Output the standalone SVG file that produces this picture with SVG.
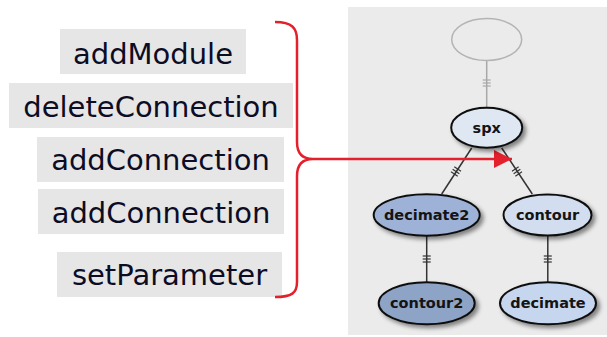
<svg xmlns="http://www.w3.org/2000/svg" width="607" height="337" viewBox="0 0 607 337">
  <style>
    .cmd-box { fill: #e6e6e6; }
    .cmd-text { font-family: "DejaVu Sans", Verdana, sans-serif; font-size: 29px; fill: #0c0c24; text-anchor: middle; }
    .node { stroke: #111; stroke-width: 2; filter: url(#shadow); }
    .node-label { font-family: "DejaVu Sans", Verdana, sans-serif; font-size: 14.5px; font-weight: bold; fill: #141414; text-anchor: middle; }
    .edge { stroke: #333; stroke-width: 1.5; fill: none; }
    .edge-faint { stroke: #a8a8a8; stroke-width: 1.5; fill: none; }
    .hash { stroke: #333; stroke-width: 1.2; }
    .hash-faint { stroke: #a8a8a8; stroke-width: 1.2; }
    .brace { stroke: #e3202c; stroke-width: 2.5; fill: none; }
  </style>
  <defs>
    <filter id="shadow" x="-30%" y="-30%" width="160%" height="170%">
      <feDropShadow dx="3" dy="3" stdDeviation="2" flood-color="#000" flood-opacity="0.45"/>
    </filter>
    <!-- three short ticks across a vertical edge; stroke comes from the <use> -->
    <g id="ticks">
      <line x1="-4" y1="-3" x2="4" y2="-3"/>
      <line x1="-4" y1="0" x2="4" y2="0"/>
      <line x1="-4" y1="3" x2="4" y2="3"/>
    </g>
    <marker id="arrowhead" markerUnits="userSpaceOnUse" markerWidth="20" markerHeight="18" refX="18" refY="9" orient="auto">
      <path d="M0,0 L18,9 L0,18 Z" fill="#e3202c"/>
    </marker>
  </defs>

  <!-- page -->
  <rect x="0" y="0" width="607" height="337" fill="#ffffff"/>
  <!-- pipeline canvas -->
  <rect x="348" y="7" width="259" height="328" fill="#ebebeb"/>

  <!-- command list -->
  <g id="cmd-addModule">
    <rect class="cmd-box" x="60" y="29" width="186" height="45"/>
    <text class="cmd-text" x="153" y="64">addModule</text>
  </g>
  <g id="cmd-deleteConnection">
    <rect class="cmd-box" x="9" y="83" width="284" height="45"/>
    <text class="cmd-text" x="151" y="117">deleteConnection</text>
  </g>
  <g id="cmd-addConnection-1">
    <rect class="cmd-box" x="37" y="137" width="247" height="45"/>
    <text class="cmd-text" x="160.5" y="170">addConnection</text>
  </g>
  <g id="cmd-addConnection-2">
    <rect class="cmd-box" x="38" y="189" width="246" height="45"/>
    <text class="cmd-text" x="161" y="223">addConnection</text>
  </g>
  <g id="cmd-setParameter">
    <rect class="cmd-box" x="57" y="252" width="225" height="45"/>
    <text class="cmd-text" x="169.5" y="285">setParameter</text>
  </g>

  <!-- connectors -->
  <g id="connectors">
    <line class="edge-faint" x1="486.7" y1="61" x2="486.7" y2="107"/>
    <use href="#ticks" class="hash-faint" transform="translate(486.7,83)"/>

    <line class="edge" x1="471.7" y1="148" x2="441.7" y2="194"/>
    <use href="#ticks" class="hash" transform="translate(456,171.5) rotate(33.1)"/>

    <line class="edge" x1="501.7" y1="148" x2="532.3" y2="194"/>
    <use href="#ticks" class="hash" transform="translate(517,171.5) rotate(-33.6)"/>

    <line class="edge" x1="426.7" y1="236" x2="426.7" y2="282"/>
    <use href="#ticks" class="hash" transform="translate(426.7,259)"/>

    <line class="edge" x1="547.8" y1="235" x2="547.8" y2="282"/>
    <use href="#ticks" class="hash" transform="translate(547.8,259)"/>

    <!-- brace gathering the commands, pointing at the new connection -->
    <path class="brace" d="M275,22 C292,22 297,28 297,40 L297,142 C297,153 302,159 313,159 C302,159 297,165 297,176 L297,282 C297,293 292,297 275,297"/>
    <line class="brace" x1="313" y1="159" x2="512" y2="159" stroke-width="3" marker-end="url(#arrowhead)"/>
  </g>

  <!-- modules -->
  <g id="node-empty">
    <ellipse cx="486.7" cy="39.5" rx="35" ry="21" fill="none" stroke="#b4b4b4" stroke-width="1.5"/>
  </g>
  <g id="node-spx">
    <ellipse class="node" cx="486.7" cy="127.7" rx="35.5" ry="20" fill="#dfe7f3"/>
    <text class="node-label" x="486.7" y="132.5">spx</text>
  </g>
  <g id="node-decimate2">
    <ellipse class="node" cx="426.7" cy="215" rx="53" ry="20.7" fill="#9db2d6"/>
    <text class="node-label" x="426.7" y="220">decimate2</text>
  </g>
  <g id="node-contour">
    <ellipse class="node" cx="547.5" cy="215" rx="44" ry="20.5" fill="#d2def0"/>
    <text class="node-label" x="547.5" y="220">contour</text>
  </g>
  <g id="node-contour2">
    <ellipse class="node" cx="426.7" cy="303.3" rx="48" ry="21" fill="#8ea4c6"/>
    <text class="node-label" x="426.7" y="308.3">contour2</text>
  </g>
  <g id="node-decimate">
    <ellipse class="node" cx="548" cy="303.3" rx="48" ry="21" fill="#c6d6ee"/>
    <text class="node-label" x="548" y="308.3">decimate</text>
  </g>
</svg>
